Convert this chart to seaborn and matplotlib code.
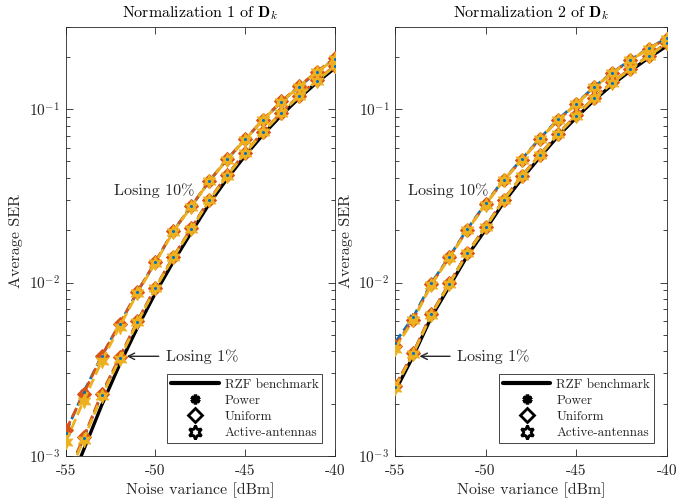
import numpy as np
import pandas as pd
import matplotlib
matplotlib.use("Agg")
import matplotlib.pyplot as plt
from matplotlib.lines import Line2D
import seaborn as sns

# ---------------- data ----------------
noise_dbm = [-55, -54, -53, -52, -51, -50, -49, -48, -47, -46, -45, -44, -43, -42, -41, -40]

# Normalization 1
rzf_n1 = [6.0e-4, 1.08e-3, 1.95e-3, 3.35e-3, 5.5e-3, 8.7e-3, 1.32e-2, 1.95e-2, 2.85e-2, 3.98e-2,
          5.4e-2, 7.15e-2, 9.2e-2, 0.116, 0.143, 0.173]
power_1pct_n1 = [7.2e-4, 1.26e-3, 2.25e-3, 3.65e-3, 5.95e-3, 9.3e-3, 1.40e-2, 2.05e-2, 3.0e-2, 4.15e-2,
                 5.6e-2, 7.4e-2, 9.5e-2, 0.119, 0.146, 0.178]
uniform_1pct_n1 = [7.3e-4, 1.28e-3, 2.28e-3, 3.7e-3, 6.0e-3, 9.35e-3, 1.41e-2, 2.06e-2, 3.0e-2, 4.17e-2,
                   5.62e-2, 7.42e-2, 9.55e-2, 0.12, 0.147, 0.179]
active_1pct_n1 = [7.0e-4, 1.24e-3, 2.2e-3, 3.6e-3, 5.9e-3, 9.25e-3, 1.40e-2, 2.04e-2, 2.98e-2, 4.14e-2,
                  5.58e-2, 7.38e-2, 9.48e-2, 0.119, 0.146, 0.178]
power_10pct_n1 = [1.36e-3, 2.33e-3, 3.75e-3, 5.75e-3, 8.85e-3, 1.31e-2, 1.99e-2, 2.75e-2, 3.85e-2, 5.15e-2,
                  6.7e-2, 8.7e-2, 0.110, 0.135, 0.164, 0.196]
uniform_10pct_n1 = [1.40e-3, 2.28e-3, 3.75e-3, 5.75e-3, 8.85e-3, 1.32e-2, 1.99e-2, 2.76e-2, 3.86e-2, 5.16e-2,
                    6.72e-2, 8.72e-2, 0.111, 0.136, 0.165, 0.198]
active_10pct_n1 = [1.20e-3, 2.08e-3, 3.5e-3, 5.55e-3, 8.7e-3, 1.30e-2, 1.97e-2, 2.74e-2, 3.84e-2, 5.13e-2,
                   6.68e-2, 8.68e-2, 0.110, 0.135, 0.164, 0.195]

# Normalization 2
rzf_n2 = [2.35e-3, 3.75e-3, 6.3e-3, 9.5e-3, 1.43e-2, 2.02e-2, 2.9e-2, 3.97e-2, 5.3e-2, 7.0e-2,
          8.95e-2, 0.113, 0.139, 0.167, 0.198, 0.232]
power_1pct_n2 = [2.5e-3, 3.9e-3, 6.55e-3, 9.85e-3, 1.48e-2, 2.09e-2, 3.0e-2, 4.1e-2, 5.46e-2, 7.2e-2,
                 9.2e-2, 0.116, 0.142, 0.171, 0.203, 0.240]
uniform_1pct_n2 = [2.52e-3, 3.92e-3, 6.58e-3, 9.9e-3, 1.49e-2, 2.1e-2, 3.01e-2, 4.12e-2, 5.48e-2, 7.22e-2,
                   9.22e-2, 0.117, 0.143, 0.172, 0.204, 0.241]
active_1pct_n2 = [2.47e-3, 3.87e-3, 6.5e-3, 9.8e-3, 1.48e-2, 2.08e-2, 3.0e-2, 4.1e-2, 5.45e-2, 7.2e-2,
                  9.2e-2, 0.116, 0.142, 0.171, 0.203, 0.240]
power_10pct_n2 = [4.5e-3, 6.3e-3, 9.9e-3, 1.41e-2, 2.04e-2, 2.86e-2, 3.93e-2, 5.15e-2, 6.8e-2, 8.75e-2,
                  0.108, 0.135, 0.163, 0.193, 0.225, 0.257]
uniform_10pct_n2 = [4.3e-3, 6.1e-3, 9.75e-3, 1.40e-2, 2.02e-2, 2.83e-2, 3.9e-2, 5.1e-2, 6.75e-2, 8.65e-2,
                    0.107, 0.134, 0.162, 0.192, 0.224, 0.256]
active_10pct_n2 = [4.15e-3, 6.05e-3, 9.7e-3, 1.39e-2, 2.01e-2, 2.82e-2, 3.9e-2, 5.1e-2, 6.75e-2, 8.65e-2,
                   0.107, 0.134, 0.162, 0.192, 0.224, 0.256]

titles = [r"Normalization 1 of $\mathbf{D}_k$", r"Normalization 2 of $\mathbf{D}_k$"]
legend_labels = ["RZF benchmark", "Power", "Uniform", "Active-antennas"]
xtick_values = [-55, -50, -45, -40]
xtick_labels = ["-55", "-50", "-45", "-40"]
ytick_values = [1e-3, 1e-2, 1e-1]
ytick_labels = [r"$10^{-3}$", r"$10^{-2}$", r"$10^{-1}$"]

# ---------------- style ----------------
sns.set_style("ticks")
plt.rcParams["font.family"] = ["cmr10", "DejaVu Serif"]
plt.rcParams["mathtext.fontset"] = "cm"
plt.rcParams["axes.unicode_minus"] = False
plt.rcParams["axes.formatter.use_mathtext"] = True

C_BLUE = "#0072BD"
C_RED = "#D95319"
C_YEL = "#EDB120"
GRAY = "#262626"
HEXAGRAM = (6, 1, 0)
ASTER = (6, 2, 0)

fig = plt.figure(figsize=(6.78, 5.0), dpi=100)
ax1 = fig.add_axes([0.0969, 0.0886, 0.3970, 0.858])
ax2 = fig.add_axes([0.5826, 0.0886, 0.4007, 0.858])

panels = [
    (ax1, rzf_n1, [(power_1pct_n1, uniform_1pct_n1, active_1pct_n1),
                   (power_10pct_n1, uniform_10pct_n1, active_10pct_n1)]),
    (ax2, rzf_n2, [(power_1pct_n2, uniform_1pct_n2, active_1pct_n2),
                   (power_10pct_n2, uniform_10pct_n2, active_10pct_n2)]),
]

for i, (ax, rzf, groups) in enumerate(panels):
    sns.lineplot(x=noise_dbm, y=rzf, ax=ax, color="black", lw=2.4, zorder=2)
    for pw, un, ac in groups:
        sns.lineplot(x=noise_dbm, y=pw, ax=ax, color=C_BLUE, lw=2, linestyle="--",
                     marker=ASTER, markersize=6, markeredgewidth=1.5, markeredgecolor=C_BLUE,
                     zorder=3)
        sns.lineplot(x=noise_dbm, y=un, ax=ax, color=C_RED, lw=2, linestyle="--",
                     marker="D", markersize=7.5, markerfacecolor=C_RED, markeredgecolor=C_RED,
                     zorder=4)
        sns.lineplot(x=noise_dbm, y=ac, ax=ax, color=C_YEL, lw=2, linestyle="--",
                     marker=HEXAGRAM, markersize=10.5, markerfacecolor=C_YEL,
                     markeredgecolor=C_YEL, markeredgewidth=0.6, zorder=5)
        # small blue dot on top, as seen in the centre of the markers
        sns.lineplot(x=noise_dbm, y=pw, ax=ax, color=C_BLUE, lw=0,
                     marker="o", markersize=2.2, markeredgewidth=0, zorder=6)
    ax.set_yscale("log")
    ax.set_xlim(-55, -40)
    ax.set_ylim(1e-3, 0.3)
    ax.set_xticks(xtick_values)
    ax.set_xticklabels(xtick_labels)
    ax.set_yticks(ytick_values)
    ax.set_yticklabels(ytick_labels)
    ax.tick_params(which="both", direction="in", top=True, right=True, colors=GRAY,
                   labelsize=11)
    ax.tick_params(axis="x", which="major", pad=6.5)
    ax.tick_params(axis="y", which="major", pad=4)
    ax.tick_params(which="major", length=5, width=0.6)
    ax.tick_params(which="minor", length=3, width=0.6)
    for s in ax.spines.values():
        s.set_color(GRAY)
        s.set_linewidth(0.6)
    ax.set_title(titles[i], fontsize=11.5, color="black", pad=7)
    ax.set_xlabel("Noise variance [dBm]", fontsize=11.5, color=GRAY, labelpad=3)
    ax.set_ylabel("Average SER", fontsize=11.5, color=GRAY, labelpad=4)

    handles = [
        Line2D([], [], color="black", lw=3),
        Line2D([], [], color="black", lw=0, marker=ASTER, markersize=7, markeredgewidth=2.5),
        Line2D([], [], color="black", lw=0, marker="D", markersize=7, markerfacecolor="white",
               markeredgewidth=2),
        Line2D([], [], color="black", lw=0, marker=HEXAGRAM, markersize=10,
               markerfacecolor="white", markeredgewidth=2),
    ]
    leg = ax.legend(handles, legend_labels, loc="lower right", fontsize=9.5,
                    handlelength=3.6, handletextpad=0.45, labelspacing=0.3,
                    borderpad=0.3, borderaxespad=0.95, fancybox=False, framealpha=1,
                    edgecolor=GRAY)
    leg.get_frame().set_linewidth(0.6)

# annotations
ax1.text(-52.3, 0.034, "Losing 10%", fontsize=11.5, color=GRAY, va="center", ha="left")
ax1.annotate("Losing 1%", xy=(-51.6, 3.75e-3), xytext=(-49.4, 3.75e-3), fontsize=11.5,
             color=GRAY, va="center", ha="left",
             arrowprops=dict(arrowstyle="->", color=GRAY, lw=1, shrinkA=3, shrinkB=0))
ax2.text(-54.3, 0.034, "Losing 10%", fontsize=11.5, color=GRAY, va="center", ha="left")
ax2.annotate("Losing 1%", xy=(-53.65, 3.75e-3), xytext=(-51.55, 3.75e-3), fontsize=11.5,
             color=GRAY, va="center", ha="left",
             arrowprops=dict(arrowstyle="->", color=GRAY, lw=1, shrinkA=3, shrinkB=0))

fig.savefig("out.png", dpi=100)
